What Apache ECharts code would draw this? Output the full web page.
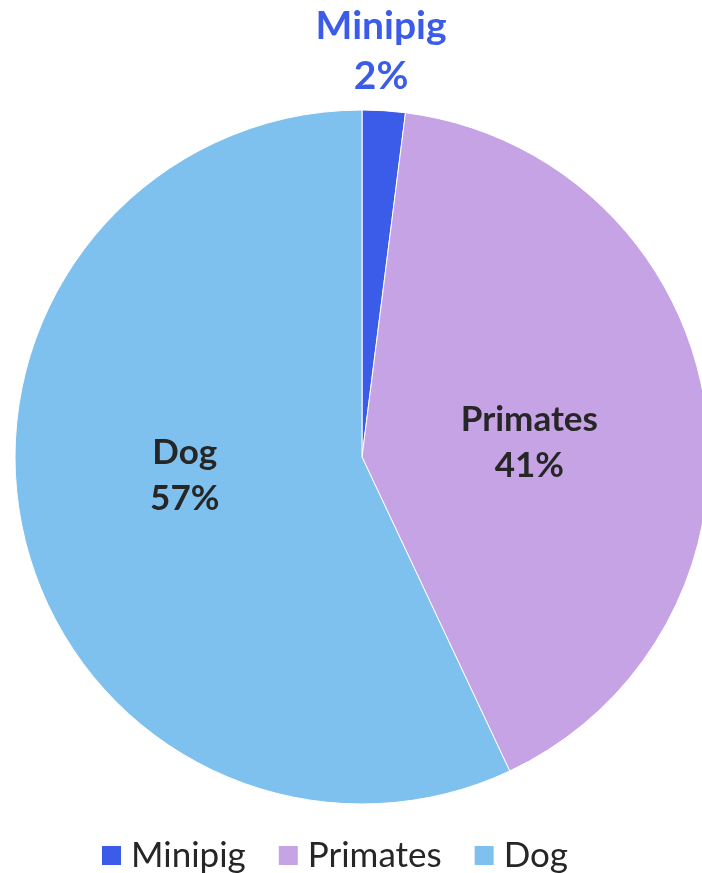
<!DOCTYPE html>
<html>
<head>
<meta charset="utf-8">
<script src="https://cdn.jsdelivr.net/npm/echarts@6/dist/echarts.min.js"></script>
<style>
  html, body { margin: 0; padding: 0; background: #fff; }
  #chart { width: 702px; height: 873px; }
</style>
</head>
<body>
<div id="chart"></div>
<script>
var categories = ['Minipig', 'Primates', 'Dog'];
var shares = [2, 41, 57];
var colors = ['#3b5ce8', '#c5a3e5', '#7fc1ee'];

var chart = echarts.init(document.getElementById('chart'));

// per-slice label look; minipig sits above the pie
var labelStyles = [
    { color: '#3b5ce8', fontSize: 39, lineHeight: 50, offset: [8, -229] },
    { color: '#262626', fontSize: 35, lineHeight: 46, offset: [-7, 13] },
    { color: '#262626', fontSize: 35, lineHeight: 46, offset: [-5, -20] }
];

var data = categories.map(function(name, i) {
    return {
        name: name,
        value: shares[i],
        itemStyle: { color: colors[i] },
        label: labelStyles[i]
    };
});

chart.setOption({
    animation: false,
    backgroundColor: '#fff',
    legend: {
        bottom: -5,
        left: 95,
        itemWidth: 21,
        itemHeight: 21,
        itemGap: 31,
        icon: 'rect',
        textStyle: { fontFamily: 'Lato', fontSize: 35, color: '#262626', padding: [0, 0, 0, 4] },
        data: categories
    },
    series: [{
        type: 'pie',
        center: [362, 457],
        radius: 347,
        startAngle: 90,
        clockwise: true,
        avoidLabelOverlap: false,
        itemStyle: { borderColor: '#fff', borderWidth: 1 },
        label: {
            show: true,
            position: 'inside',
            fontFamily: 'Lato',
            fontWeight: 'bold',
            formatter: function(p) { return p.name + '\n' + p.value + '%'; }
        },
        labelLine: { show: false },
        emphasis: { disabled: true },
        data: data
    }]
});
</script>
</body>
</html>
